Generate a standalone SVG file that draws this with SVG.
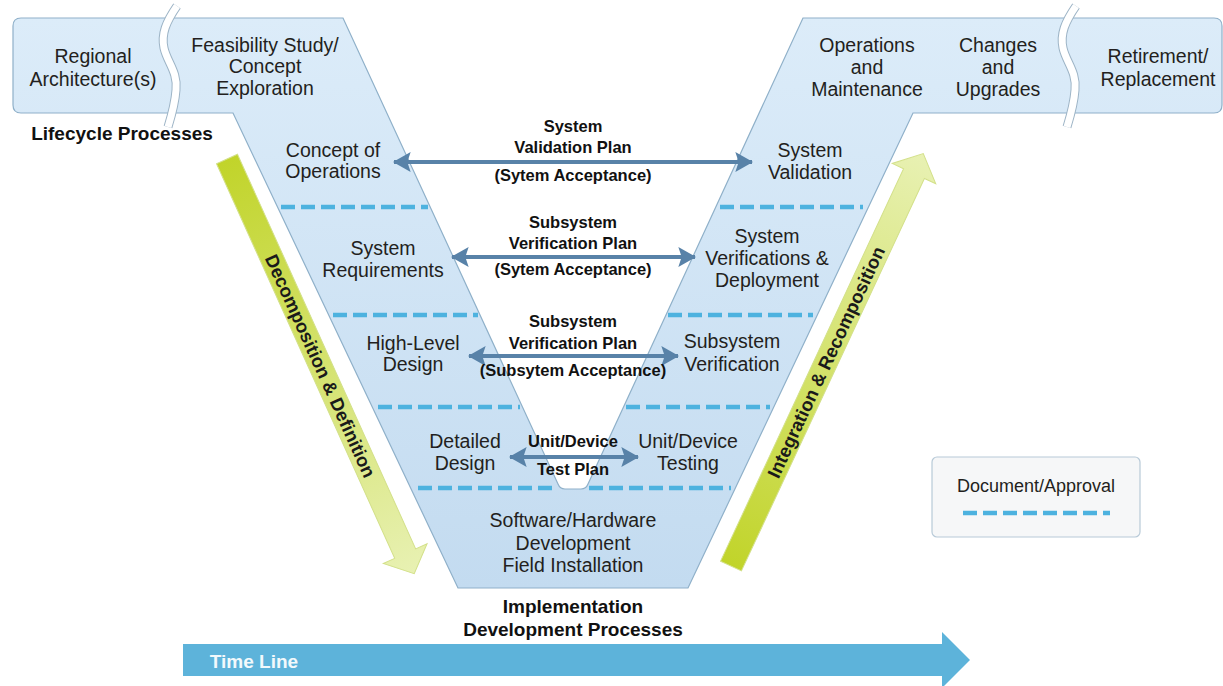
<svg xmlns="http://www.w3.org/2000/svg" width="1223" height="686" viewBox="0 0 1223 686">
<defs>
<linearGradient id="vfill" gradientUnits="userSpaceOnUse" x1="0" y1="18" x2="0" y2="588"><stop offset="0" stop-color="#dcecf9"/><stop offset="1" stop-color="#c3dbf0"/></linearGradient>
<linearGradient id="gfill" x1="0" y1="0" x2="1" y2="0"><stop offset="0" stop-color="#c1d42a"/><stop offset="1" stop-color="#e8f1b3"/></linearGradient>
<marker id="ah" markerUnits="userSpaceOnUse" markerWidth="18" markerHeight="20" viewBox="0 0 16 18" refX="15" refY="9" orient="auto-start-reverse"><path d="M0,0 L16,9 L0,18 L3,9 Z" fill="#5882a8"/></marker>
</defs>
<style>
text{font-family:"Liberation Sans",Arial,sans-serif;text-anchor:middle}
.t{font-size:19.5px;fill:#231f20}
.b{font-size:16.5px;font-weight:bold;fill:#111}
.h{font-size:19px;font-weight:bold;fill:#111}
.g{font-size:18.5px;font-weight:bold;fill:#1a1a1a}
.dash{stroke:#4db2df;stroke-width:4.5;stroke-dasharray:14 6;fill:none}
.conn{stroke:#5882a8;stroke-width:4;fill:none;marker-start:url(#ah);marker-end:url(#ah)}
.brk1{stroke:#9db4c6;stroke-width:9;fill:none}
.brk2{stroke:#ffffff;stroke-width:7;fill:none}
.garrow{fill:url(#gfill);stroke:#d3e08a;stroke-width:1}
</style>

<g id="vshape">
<path d="M21,18 L343,18 L558,484 Q560,489 565,489 L581,489 Q586,489 588,484 L803,18 L1214,18 Q1222,18 1222,26 L1222,105 Q1222,113 1214,113 L913,113 L688,588 L458,588 L233,113 L21,113 Q13,113 13,105 L13,26 Q13,18 21,18 Z" fill="url(#vfill)" stroke="#8fb0c9" stroke-width="1.2"/>
<path class="brk1" d="M177,6 C166,22 161,34 164,48 C167,62 178,72 176,90 C175,104 172,114 168,127"/>
<path class="brk2" d="M177,6 C166,22 161,34 164,48 C167,62 178,72 176,90 C175,104 172,114 168,127"/>
<g transform="translate(899,0)">
<path class="brk1" d="M177,6 C166,22 161,34 164,48 C167,62 178,72 176,90 C175,104 172,114 168,127"/>
<path class="brk2" d="M177,6 C166,22 161,34 164,48 C167,62 178,72 176,90 C175,104 172,114 168,127"/>
</g>
</g>

<g id="dashes">
<line class="dash" x1="281" y1="207" x2="428" y2="207"/>
<line class="dash" x1="333" y1="315" x2="478" y2="315"/>
<line class="dash" x1="378" y1="407" x2="520" y2="407"/>
<line class="dash" x1="418" y1="488" x2="557" y2="488"/>
<line class="dash" x1="720" y1="207" x2="863" y2="207"/>
<line class="dash" x1="668" y1="315" x2="813" y2="315"/>
<line class="dash" x1="626" y1="407" x2="770" y2="407"/>
<line class="dash" x1="589" y1="488" x2="731" y2="488"/>
</g>

<g id="regional-architecture"><text class="t" x="93" y="63">Regional</text><text class="t" x="93" y="86">Architecture(s)</text></g>
<g id="feasibility"><text class="t" x="265" y="52">Feasibility Study/</text><text class="t" x="265" y="73">Concept</text><text class="t" x="265" y="95">Exploration</text></g>
<g id="lifecycle-label"><text class="h" x="122" y="140">Lifecycle Processes</text></g>
<g id="concept-of-operations"><text class="t" x="333" y="157">Concept of</text><text class="t" x="333" y="178">Operations</text></g>
<g id="system-requirements"><text class="t" x="383" y="255">System</text><text class="t" x="383" y="277">Requirements</text></g>
<g id="high-level-design"><text class="t" x="413" y="350">High-Level</text><text class="t" x="413" y="371">Design</text></g>
<g id="detailed-design"><text class="t" x="465" y="448">Detailed</text><text class="t" x="465" y="470">Design</text></g>
<g id="sw-hw-development"><text class="t" x="573" y="527">Software/Hardware</text><text class="t" x="573" y="550">Development</text><text class="t" x="573" y="572">Field Installation</text></g>
<g id="implementation-label"><text class="h" x="573" y="613">Implementation</text><text class="h" x="573" y="636">Development Processes</text></g>
<g id="unit-device-testing"><text class="t" x="688" y="448">Unit/Device</text><text class="t" x="688" y="470">Testing</text></g>
<g id="subsystem-verification"><text class="t" x="732" y="348">Subsystem</text><text class="t" x="732" y="371">Verification</text></g>
<g id="system-verifications-deployment"><text class="t" x="767" y="243">System</text><text class="t" x="767" y="265">Verifications &amp;</text><text class="t" x="767" y="287">Deployment</text></g>
<g id="system-validation"><text class="t" x="810" y="157">System</text><text class="t" x="810" y="179">Validation</text></g>
<g id="operations-maintenance"><text class="t" x="867" y="52">Operations</text><text class="t" x="867" y="74">and</text><text class="t" x="867" y="96">Maintenance</text></g>
<g id="changes-upgrades"><text class="t" x="998" y="52">Changes</text><text class="t" x="998" y="74">and</text><text class="t" x="998" y="96">Upgrades</text></g>
<g id="retirement"><text class="t" x="1158" y="63">Retirement/</text><text class="t" x="1158" y="86">Replacement</text></g>

<g id="decomposition-arrow" transform="translate(227,159) rotate(65.7)">
<path class="garrow" d="M0,-11.5 L433,-11.5 L433,-24 L455,0 L433,24 L433,11.5 L0,11.5 Z"/>
<text class="g" x="227" y="6.5">Decomposition &amp; Definition</text>
</g>
<g id="integration-arrow" transform="translate(731,566) rotate(-65)">
<path class="garrow" d="M0,-11.5 L433,-11.5 L433,-24 L455,0 L433,24 L433,11.5 L0,11.5 Z"/>
<text class="g" x="225" y="6.5">Integration &amp; Recomposition</text>
</g>

<g id="connectors">
<line class="conn" x1="394" y1="162" x2="752" y2="162"/>
<line class="conn" x1="452" y1="257" x2="695" y2="257"/>
<line class="conn" x1="469" y1="356" x2="678" y2="356"/>
<line class="conn" x1="510" y1="457" x2="638" y2="457"/>
</g>
<g id="connector-labels">
<text class="b" x="573" y="132">System</text><text class="b" x="573" y="153">Validation Plan</text><text class="b" x="573" y="181">(Sytem Acceptance)</text>
<text class="b" x="573" y="228">Subsystem</text><text class="b" x="573" y="249">Verification Plan</text><text class="b" x="573" y="275">(Sytem Acceptance)</text>
<text class="b" x="573" y="327">Subsystem</text><text class="b" x="573" y="349">Verification Plan</text><text class="b" x="573" y="376">(Subsytem Acceptance)</text>
<text class="b" x="573" y="447">Unit/Device</text><text class="b" x="573" y="475">Test Plan</text>
</g>

<g id="legend">
<rect x="932" y="457" width="208" height="80" rx="5" fill="#f6f7f8" stroke="#b8cad8" stroke-width="1.2"/>
<text class="t" x="1036" y="492" style="font-size:18px">Document/Approval</text>
<line class="dash" x1="963" y1="513" x2="1110" y2="513"/>
</g>

<g id="timeline">
<polygon points="183,644 942,644 942,632 970,660 942,688 942,676 183,676" fill="#5db3da"/>
<text x="254" y="668" style="font-size:19px;font-weight:bold;fill:#f2f9fc">Time Line</text>
</g>
</svg>
